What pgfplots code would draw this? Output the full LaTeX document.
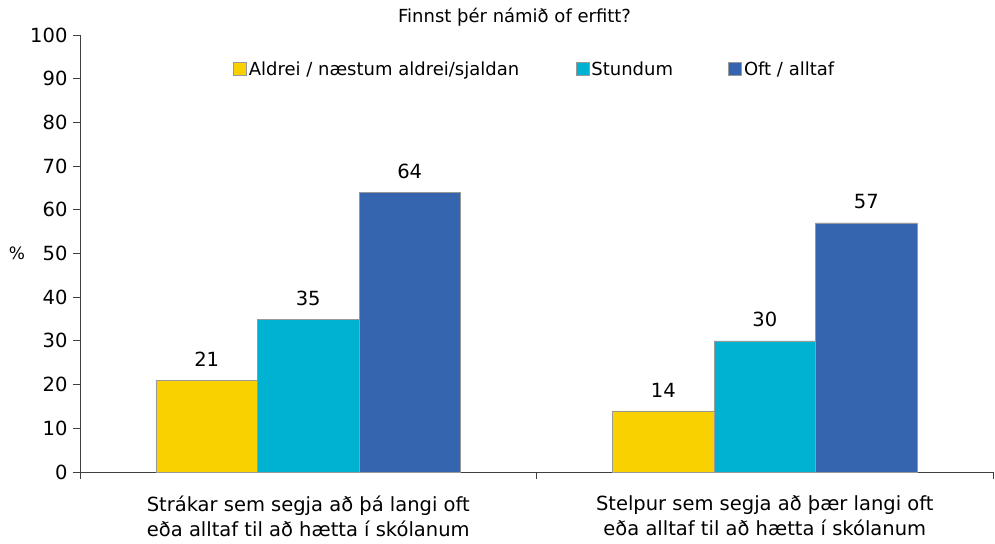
\documentclass[border=0pt]{standalone}
\usepackage{pgfplots}
\pgfplotsset{compat=1.18}
\usepackage{fontspec}
\setmainfont{DejaVu Sans}
\definecolor{cyel}{HTML}{F9D100}
\definecolor{ccya}{HTML}{00B2D2}
\definecolor{cblu}{HTML}{3465AE}
\definecolor{caxis}{HTML}{404040}
\begin{document}
\begin{tikzpicture}
\useasboundingbox (-80pt,-71pt) rectangle (915pt,472pt);
\begin{axis}[
  at={(0pt,0pt)}, anchor=south west,
  scale only axis, width=913pt, height=437pt,
  clip=false,
  xmin=-0.5, xmax=1.5, ymin=0, ymax=100,
  ytick={0,10,...,100},
  xtick={0,1},
  xticklabels={{Strákar sem segja að þá langi oft\\eða alltaf til að hætta í skólanum},{Stelpur sem segja að þær langi oft\\eða alltaf til að hætta í skólanum}},
  xticklabel style={align=center, font=\fontsize{19.5}{25}\selectfont, yshift=-13pt},
  yticklabel style={font=\fontsize{19.5}{24}\selectfont, xshift=-2pt},
  /pgf/number format/assume math mode=true,
  minor xtick={-0.5,0.5,1.5},
  major x tick style={draw=none},
  minor tick length=7pt, major tick length=7pt,
  tick align=outside,
  axis x line*=bottom, axis y line*=left,
  axis line style={caxis, line width=0.8pt},
  every tick/.style={caxis, line width=0.8pt},
  ylabel={\%}, ylabel style={rotate=-90, font=\fontsize{17}{22}\selectfont, at={(axis description cs:0,0.5)}, anchor=center, xshift=-63pt},
  ybar=0pt, bar width=101.5pt,
  nodes near coords,
  every node near coord/.append style={font=\fontsize{19.5}{24}\selectfont, yshift=10pt},
  legend style={draw=none, fill=none, at={(axis description cs:0.1643,0.9222)}, anchor=west, font=\fontsize{18}{20}\selectfont, legend columns=3, /tikz/every even column/.append style={column sep=0pt}},
  legend image code/.code={\fill[#1] (0pt,-6.5pt) rectangle (13pt,6.5pt);},
]
\addplot[fill=cyel, draw=gray!80, line width=0.6pt, bar shift=-101.5pt] coordinates {(0,21) (1,14)};
\addlegendentry{\makebox[325pt][l]{Aldrei / næstum aldrei/sjaldan}}
\addplot[fill=ccya, draw=gray!80, line width=0.6pt, bar shift=0pt] coordinates {(0,35) (1,30)};
\addlegendentry{\makebox[135pt][l]{Stundum}}
\addplot[fill=cblu, draw=gray!80, line width=0.6pt, bar shift=101.5pt] coordinates {(0,64) (1,57)};
\addlegendentry{Oft / alltaf}
\node[font=\fontsize{18}{20}\selectfont] at (axis cs:0.452,100) [yshift=18pt] {Finnst þér námið of erfitt?};
\end{axis}
\end{tikzpicture}
\end{document}
